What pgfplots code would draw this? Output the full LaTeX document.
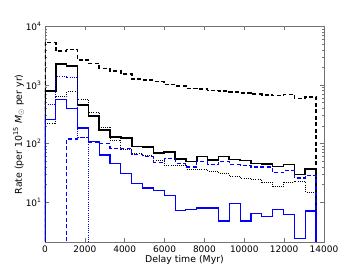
\documentclass[border=0pt]{standalone}
\usepackage{fontspec}
\setmainfont{DejaVu Sans}
\setsansfont{DejaVu Sans}
\usepackage{pgfplots}
\pgfplotsset{compat=1.18}
\begin{document}
\begin{tikzpicture}
\begin{axis}[
  width=279bp, height=215.5bp, scale only axis,
  xmin=0, xmax=14000, ymode=log, ymin=2.1, ymax=1e4,
  scaled x ticks=false,
  xtick={0,2000,4000,6000,8000,10000,12000,14000},
  xticklabels={0,2000,4000,6000,8000,10000,12000,14000},
  ytick={10,100,1000,10000},
  yticklabels={10\textsuperscript{1},10\textsuperscript{2},10\textsuperscript{3},10\textsuperscript{4}},
  axis line style={black!55, line width=0.8bp},
  tick style={black!55, line width=0.6bp},
  major tick length=4bp, minor tick length=2bp,
  tick align=inside,
  tick label style={font=\fontsize{9}{10}\selectfont},
  label style={font=\fontsize{9.4}{10}\selectfont},
  xlabel={Delay time (Myr)},
  ylabel={Rate (per 10\textsuperscript{15} \textit{M}$_\odot$ per yr)},
  xlabel style={yshift=4bp},
  ylabel style={yshift=-5bp},
  const plot mark left,
  no markers,
]
% black dashed
\addplot[black, line width=1.6bp, dash pattern=on 4bp off 2.5bp] coordinates {
(0,0.1)(0,5350)(544,3800)(1088,4050)(1632,2700)(2176,2350)(2720,1930)(3264,1750)(3808,1540)(4352,1260)(4896,1210)(5440,1150)(5984,1020)(6528,970)(7072,880)(7616,855)(8160,810)(8704,790)(9248,770)(9792,740)(10336,700)(10880,675)(11424,660)(11968,690)(12512,590)(13056,630)(13600,630)(13600,0.1)};
% black dotted
\addplot[black, line width=0.8bp, dash pattern=on 0.7bp off 1.5bp] coordinates {
(0,0.1)(0,220)(544,630)(1088,770)(1632,580)(2176,340)(2720,190)(3264,115)(3808,80)(4352,69)(4896,62)(5440,52)(5984,43)(6528,42)(7072,37)(7616,36)(8160,34)(8704,31)(9248,28)(9792,26)(10336,24.5)(10880,22)(11424,18.5)(11968,22)(12512,23)(13056,15)(13600,15)(13600,0.1)};
% black solid
\addplot[black, line width=1.6bp] coordinates {
(0,0.1)(0,800)(544,2280)(1088,2130)(1632,460)(2176,295)(2720,170)(3264,131)(3808,124)(4352,90)(4896,87)(5440,70)(5984,72)(6528,55)(7072,50)(7616,60)(8160,53)(8704,60)(9248,54)(9792,52)(10336,46)(10880,45)(11424,41)(11968,44)(12512,30)(13056,37)(13600,37)(13600,0.1)};
% blue dotted
\addplot[blue, line width=0.7bp, dash pattern=on 0.7bp off 1.5bp] coordinates {
(0,0.1)(0,470)(544,1400)(1088,1350)(1632,126)(2176,0.1)};
% blue dashed
\addplot[blue, line width=1.1bp, dash pattern=on 4bp off 2.5bp] coordinates {
(1088,0.1)(1088,120)(1632,128)(2176,107)(2720,100)(3264,83)(3808,82)(4352,66)(4896,60)(5440,48)(5984,55)(6528,46)(7072,40)(7616,49)(8160,44)(8704,50)(9248,44)(9792,43)(10336,40)(10880,40)(11424,32)(11968,35)(12512,26)(13056,29)(13600,29)(13600,0.1)};
% blue solid
\addplot[blue, line width=1.1bp] coordinates {
(0,0.1)(0,262)(544,560)(1088,400)(1632,185)(2176,110)(2720,64)(3264,46)(3808,31)(4352,21)(4896,17.5)(5440,16)(5984,13.1)(6528,7.3)(7072,7.5)(7616,8.0)(8160,8.0)(8704,4.8)(9248,9.5)(9792,4.8)(10336,6.4)(10880,5.8)(11424,7.5)(11968,6.1)(12512,2.4)(13056,7.1)(13600,7.1)(13600,0.1)};
\end{axis}
\pgfresetboundingbox
\path[use as bounding box] ([shift={(-45bp,-28bp)}]current axis.south west) rectangle ([shift={(36bp,26.5bp)}]current axis.north east);
\end{tikzpicture}
\end{document}
